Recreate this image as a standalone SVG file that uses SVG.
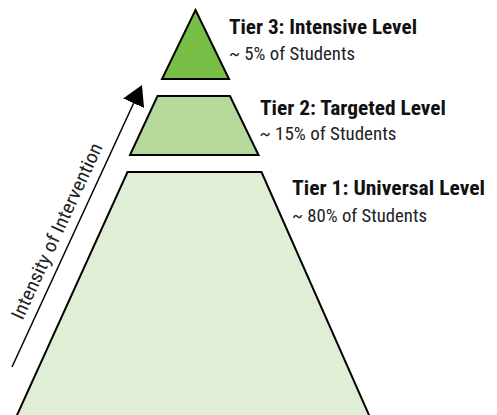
<svg xmlns="http://www.w3.org/2000/svg" width="497" height="415" viewBox="0 0 497 415">
  <style>
    .tier { stroke: #000; stroke-width: 2; stroke-linejoin: miter; }
    .t3 { fill: #78bd45; }
    .t2 { fill: #b6d99b; }
    .t1 { fill: #e0eed5; }
    .head { font-family: "Liberation Sans Narrow", "Roboto Condensed", "DejaVu Sans Condensed", "Liberation Sans", sans-serif; font-weight: bold; font-size: 21px; fill: #111; }
    .sub { font-family: "Liberation Sans Narrow", "Roboto Condensed", "DejaVu Sans Condensed", "Liberation Sans", sans-serif; font-size: 19px; fill: #222; }
    .axis { stroke: #000; stroke-width: 1.5; fill: none; }
  </style>
  <defs>
    <marker id="arrowhead" markerUnits="userSpaceOnUse" markerWidth="20" markerHeight="23" viewBox="0 0 20 23" refX="0" refY="11.5" orient="auto">
      <path d="M0,0 L20,11.5 L0,23 Z" fill="#000"/>
    </marker>
  </defs>

  <g id="tier1">
    <polygon class="tier t1" points="127.5,172 261.5,172 371.2,420 14.8,420"/>
    <text class="head" x="292" y="195" textLength="193" lengthAdjust="spacingAndGlyphs">Tier 1: Universal Level</text>
    <text class="sub" x="292" y="221.5" textLength="135" lengthAdjust="spacingAndGlyphs">~ 80% of Students</text>
  </g>

  <g id="tier2">
    <polygon class="tier t2" points="157.5,96 230,96 258.5,155 130,155"/>
    <text class="head" x="260" y="115" textLength="186" lengthAdjust="spacingAndGlyphs">Tier 2: Targeted Level</text>
    <text class="sub" x="259.5" y="139.5" textLength="137" lengthAdjust="spacingAndGlyphs">~ 15% of Students</text>
  </g>

  <g id="tier3">
    <polygon class="tier t3" points="195.5,10 229,79 162,79"/>
    <text class="head" x="229" y="34" textLength="188" lengthAdjust="spacingAndGlyphs">Tier 3: Intensive Level</text>
    <text class="sub" x="229" y="60" textLength="126" lengthAdjust="spacingAndGlyphs">~ 5% of Students</text>
  </g>

  <g id="connectors">
    <line class="axis" x1="12" y1="367" x2="133.6" y2="103.2" marker-end="url(#arrowhead)"/>
    <text class="sub" transform="translate(22.5,321) rotate(-65.25)" x="0" y="0" textLength="192" lengthAdjust="spacingAndGlyphs">Intensity of Intervention</text>
  </g>
</svg>
